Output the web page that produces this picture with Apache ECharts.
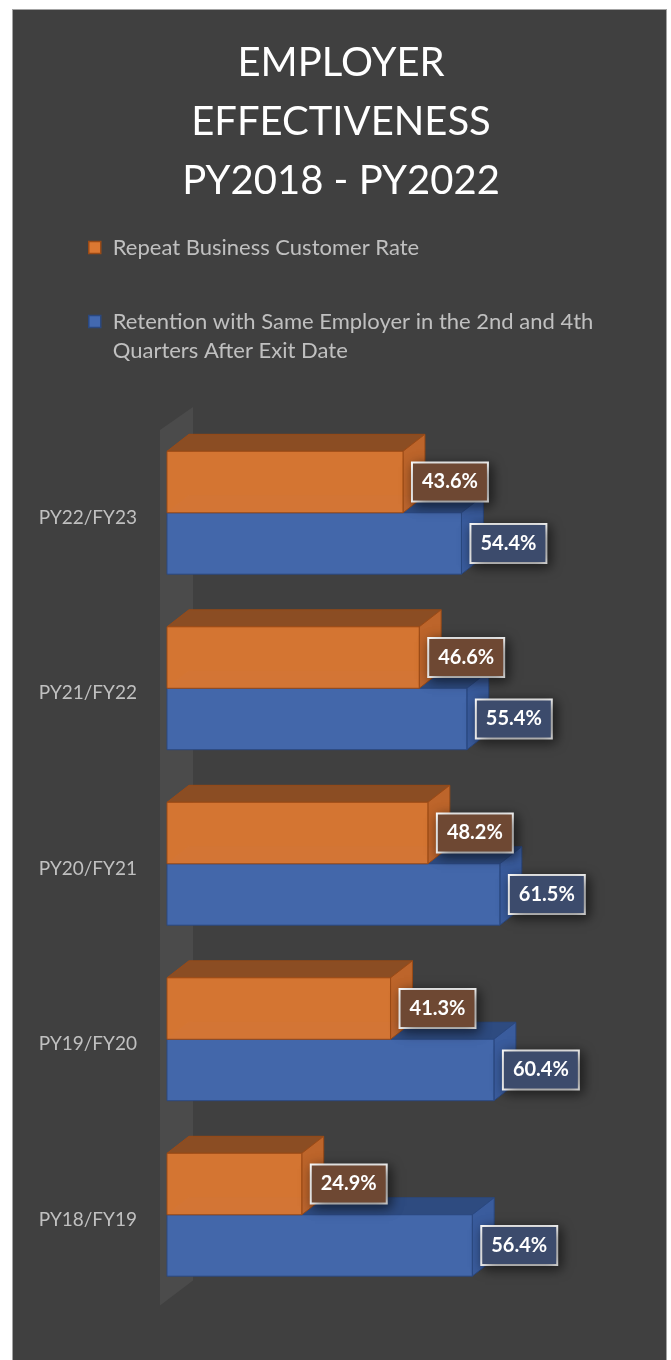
<!DOCTYPE html>
<html>
<head>
<meta charset="utf-8">
<script src="https://cdn.jsdelivr.net/npm/echarts@6/dist/echarts.min.js"></script>
<style>
  html, body { margin: 0; padding: 0; background: #ffffff; width: 671px; height: 1360px; overflow: hidden; }
  #panel { position: absolute; left: 12px; top: 9px; width: 655px; height: 1360px; box-sizing: border-box;
           border: 1px solid #a3a3a3; border-bottom: none; background: #404040; }
  #chart { width: 653px; height: 1351px; }
</style>
</head>
<body>
<div id="panel"><div id="chart"></div></div>
<script>
// Program years, bottom to top on the category axis
const categories = ['PY18/FY19', 'PY19/FY20', 'PY20/FY21', 'PY21/FY22', 'PY22/FY23'];
// Percent values per program year
const repeatBusinessRate = [24.9, 41.3, 48.2, 46.6, 43.6];
const retentionRate = [56.4, 60.4, 61.5, 55.4, 54.4];
const seriesNames = [
  'Repeat Business Customer Rate',
  'Retention with Same Employer in the 2nd and 4th Quarters After Exit Date'
];
const titleLines = ['EMPLOYER', 'EFFECTIVENESS', 'PY2018 - PY2022'];

const FONT = 'Lato, "Open Sans", sans-serif';
// bar thickness and 3D depth, as fractions of one category band
const BAR_FRAC = 0.35, DX_FRAC = 0.125, DY_FRAC = 0.097;

const orangePal = { front: '#DC7832', top: '#8F4E22', side: '#C4672A', edge: '#9A4A16', label: '#6E4833' };
const bluePal   = { front: '#4369B0', top: '#2D4C84', side: '#3A5EA2', edge: '#2A4880', label: '#3C4B6C' };

// Draws one bar as a front face plus top and right faces, with a boxed value label
function barRenderer(upper, pal) {
  return function (params, api) {
    const v = api.value(0), c = api.value(1);
    const base = api.coord([0, c]);
    const end = api.coord([v, c]);
    const band = api.size([0, 1])[1];
    const h = band * BAR_FRAC, dx = band * DX_FRAC, dy = band * DY_FRAC;
    const x0 = base[0], x1 = end[0];
    const y0 = upper ? base[1] - h : base[1];
    const y1 = y0 + h;
    const edge = { stroke: pal.edge, lineWidth: 1, lineJoin: 'round' };
    return {
      type: 'group',
      children: [
        { type: 'polygon', shape: { points: [[x0, y0], [x1, y0], [x1 + dx, y0 - dy], [x0 + dx, y0 - dy]] },
          style: Object.assign({ fill: pal.top, opacity: 0.95 }, edge) },
        { type: 'polygon', shape: { points: [[x1, y0], [x1 + dx, y0 - dy], [x1 + dx, y1 - dy], [x1, y1]] },
          style: Object.assign({ fill: pal.side, opacity: 0.95 }, edge) },
        { type: 'rect', shape: { x: x0, y: y0, width: x1 - x0, height: h },
          style: Object.assign({ fill: pal.front, opacity: 0.95 }, edge) },
        { type: 'text', x: x1 + 10, y: (y0 + y1) / 2, z2: 20,
          style: {
            text: v.toFixed(1) + '%', font: 'bold 20px ' + FONT, fill: '#ffffff',
            align: 'left', verticalAlign: 'middle',
            backgroundColor: pal.label, borderColor: '#ffffff', borderWidth: 2,
            padding: [9, 9, 8, 9],
            shadowColor: 'rgba(0,0,0,0.55)', shadowBlur: 12, shadowOffsetX: 3, shadowOffsetY: 3
          } }
      ]
    };
  };
}

// Translucent side wall of the 3D plot, left of the bars
function wallRenderer(params) {
  const cs = params.coordSys;
  const left = cs.x, top = cs.y, bottom = cs.y + cs.height;
  return {
    type: 'polygon',
    shape: { points: [[left - 7, top + 5], [left + 26, top - 18], [left + 26, bottom - 22], [left - 7, bottom + 3]] },
    style: { fill: 'rgba(255,255,255,0.06)' }
  };
}

const chart = echarts.init(document.getElementById('chart'), null, { renderer: 'canvas' });

const legendBase = {
  orient: 'vertical', left: 75, padding: 0, itemWidth: 12, itemHeight: 12, icon: 'rect',
  selectedMode: false, itemStyle: { borderWidth: 1.5 },
  textStyle: { color: '#c0c0c0', fontSize: 22, fontFamily: FONT, lineHeight: 29, padding: [0, 0, 0, 7] }
};

chart.setOption({
  backgroundColor: 'transparent',
  animation: false,
  title: {
    text: titleLines.join('\n'), left: 323, top: 19, textAlign: 'center',
    textStyle: { color: '#ffffff', fontSize: 40, fontWeight: 'normal', fontFamily: FONT, lineHeight: 59 }
  },
  legend: [
    Object.assign({}, legendBase, { data: [seriesNames[0]], top: 223 }),
    Object.assign({}, legendBase, {
      data: [seriesNames[1]], top: 268,
      // blank first line keeps the icon level with the first text line
      formatter: name => ' \n' + name.replace(' Quarters', '\nQuarters')
    })
  ],
  grid: { left: 154, width: 433, top: 415, height: 877.5, containLabel: false },
  xAxis: { type: 'value', min: 0, max: 80, show: false },
  yAxis: {
    type: 'category', data: categories,
    axisLine: { show: false }, axisTick: { show: false }, splitLine: { show: false },
    axisLabel: { color: '#c0c0c0', fontSize: 19, fontFamily: FONT, margin: 30,
                 verticalAlign: 'top', lineHeight: 10 }
  },
  series: [
    { type: 'custom', name: 'wall', silent: true, z: 1, data: [[0, 0]], encode: { x: 0, y: 1 },
      renderItem: wallRenderer },
    { type: 'custom', name: seriesNames[1], z: 2,
      itemStyle: { color: bluePal.front, borderColor: bluePal.edge },
      encode: { x: 0, y: 1 },
      data: retentionRate.map((v, i) => [v, i]),
      renderItem: barRenderer(false, bluePal) },
    { type: 'custom', name: seriesNames[0], z: 3,
      itemStyle: { color: orangePal.front, borderColor: orangePal.edge },
      encode: { x: 0, y: 1 },
      data: repeatBusinessRate.map((v, i) => [v, i]),
      renderItem: barRenderer(true, orangePal) }
  ]
});
</script>
</body>
</html>
